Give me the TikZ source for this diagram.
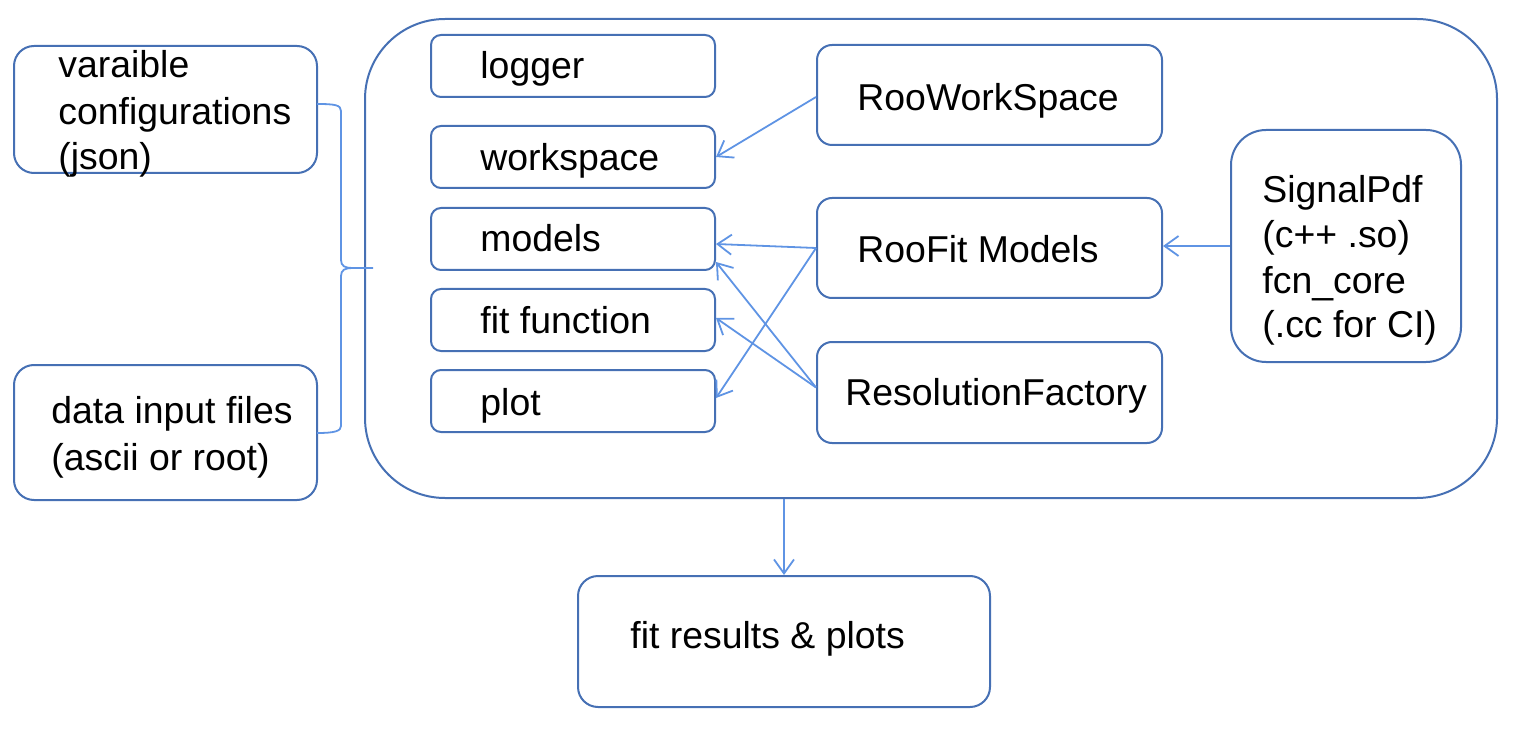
\documentclass[tikz,border=0pt]{standalone}
\usepackage{fontspec}
\setmainfont{Liberation Sans}
\usetikzlibrary{arrows.meta,fit,calc}
\definecolor{boxblue}{RGB}{70,112,180}
\definecolor{arrblue}{RGB}{95,148,228}
\begin{document}
\begin{tikzpicture}[x=0.5pt,y=-0.5pt,
  box/.style={draw=boxblue,line width=1pt,inner sep=0pt,rounded corners=#1},
  box/.default=5pt,
  txt/.style={inner sep=0pt,yshift=-1.5pt,font=\fontsize{18.7}{23}\selectfont,align=left},
  conn/.style={draw=arrblue,line width=0.9pt,-{Straight Barb[length=7pt,width=10pt,line width=0.9pt]}},
  bracel/.style={draw=arrblue,line width=0.9pt}]
\useasboundingbox (0,0) rectangle (1529,732);
% outer container
\node[box=40pt,fit={(365,19) (1497,498)}] (big) {};
% left inputs
\node[box=10pt,fit={(14,46) (317,173)}] (vc) {};
\node[txt,anchor=base west] (tvc) at (58,75) {varaible};
\node[txt,anchor=base west] (tvc2) at (58,122) {configurations};
\node[txt,anchor=base west] (tvc3) at (58,167) {(json)};
\node[box=10pt,fit={(14,365) (317,500)}] (di) {};
\node[txt,anchor=base west] (tdi) at (51,420) {data input files};
\node[txt,anchor=base west] (tdi2) at (51,467) {(ascii or root)};
% inner column
\node[box,fit={(431,35) (715,97)}] (lg) {};
\node[txt,anchor=base west] (tlg) at (480,76) {logger};
\node[box,fit={(431,126) (715,188)}] (ws) {};
\node[txt,anchor=base west] (tws) at (480,168) {workspace};
\node[box,fit={(431,208) (715,270)}] (md) {};
\node[txt,anchor=base west] (tmd) at (480,249) {models};
\node[box,fit={(431,289) (715,351)}] (ff) {};
\node[txt,anchor=base west] (tff) at (480,331) {fit function};
\node[box,fit={(431,370) (715,432)}] (pl) {};
\node[txt,anchor=base west] (tpl) at (480,412) {plot};
% right column
\node[box=7.5pt,fit={(817,45) (1162,145)}] (rws) {};
\node[txt,anchor=base west] (trws) at (857,108) {RooWorkSpace};
\node[box=7.5pt,fit={(817,198) (1162,298)}] (rfm) {};
\node[txt,anchor=base west] (trfm) at (857,260) {RooFit Models};
\node[box=7.5pt,fit={(817,342) (1162,443)}] (rf) {};
\node[txt,anchor=base west] (trf) at (845,402) {ResolutionFactory};
\node[box=17.5pt,fit={(1231,130) (1461,362)}] (sp) {};
\node[txt,anchor=base west] (tsp1) at (1262,200) {SignalPdf};
\node[txt,anchor=base west] (tsp2) at (1262,245) {(c++ .so)};
\node[txt,anchor=base west] (tsp3) at (1262,290) {fcn\_core};
\node[txt,anchor=base west] (tsp4) at (1262,334) {(.cc for CI)};
% output
\node[box=10pt,fit={(578,576) (990,707)}] (fr) {};
\node[txt,anchor=base west] (tfr) at (630,645) {fit results \& plots};
% brace
\coordinate (b1) at (317,104);
\coordinate (b2) at (317,433);
\coordinate (btip) at (373,268);
\draw[bracel] (b1) .. controls (335,104) and (341,105) .. (341,111) -- (341,260)
  .. controls (341,266) and (345,268) .. (352,268) -- (btip);
\draw[bracel] (352,268) .. controls (345,268) and (341,270) .. (341,276) -- (341,426)
  .. controls (341,431) and (335,433) .. (b2);
% connectors
\draw[conn] ([yshift=-1pt]rws.west) -- (ws.east);
\draw[conn] (rfm.west) -- ([yshift=-2.5pt]md.east);
\draw[conn] (rfm.west) -- ([yshift=1.5pt]pl.east);
\draw[conn] ([yshift=2.5pt]rf.west) -- ([yshift=-11.5pt]md.east);
\draw[conn] ([yshift=2.5pt]rf.west) -- ([yshift=1pt]ff.east);
\draw[conn] (sp.west) -- (sp.west -| rfm.east);
\draw[conn] (fr.north |- big.south) -- (fr.north);
\end{tikzpicture}
\end{document}
